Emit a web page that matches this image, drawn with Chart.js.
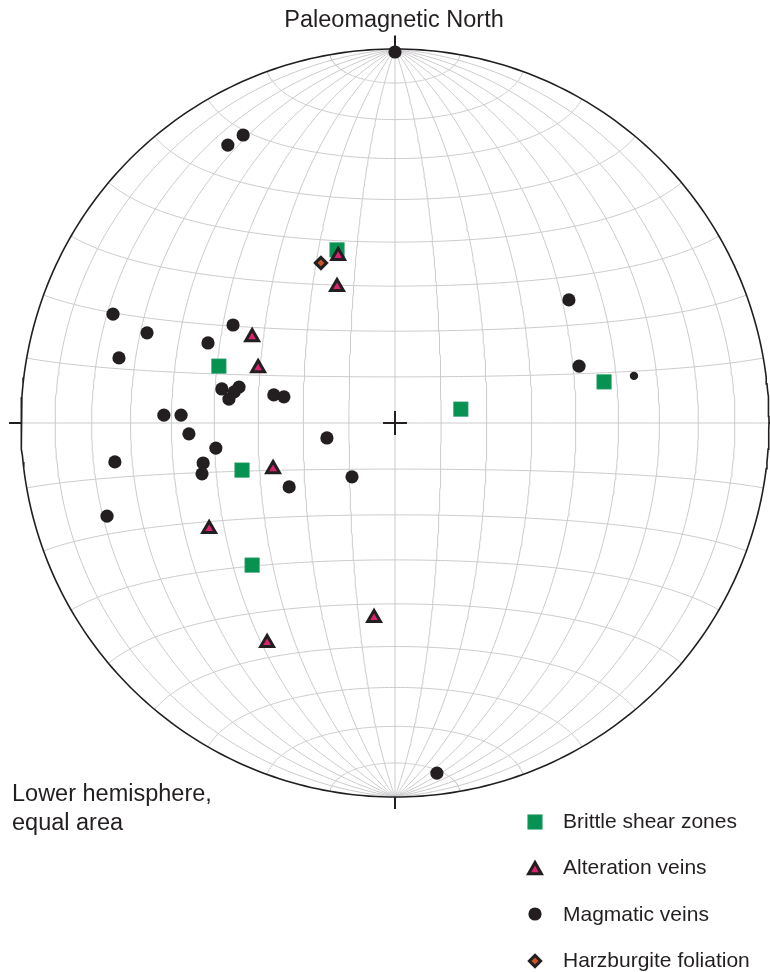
<!DOCTYPE html>
<html>
<head>
<meta charset="utf-8">
<script src="https://cdn.jsdelivr.net/npm/chart.js@4.4.1/dist/chart.umd.min.js"></script>
<style>
  html, body { margin: 0; padding: 0; background: #fff; }
  canvas { display: block; }
</style>
</head>
<body>
<canvas id="net" width="770" height="972"></canvas>
<script>
// poles plotted on the net, as projected [x, y] inside the unit circle
const brittleShear = [
  [-0.155, 0.463], [-0.471, 0.152], [-0.409, -0.126],
  [-0.382, -0.380], [0.176, 0.037], [0.559, 0.110]
]
const alterationVeins = [
  [-0.152, 0.447], [-0.155, 0.364], [-0.382, 0.230], [-0.366, 0.147],
  [-0.326, -0.123], [-0.497, -0.283], [-0.056, -0.521], [-0.342, -0.588]
]
const magmaticVeins = [
  [0.000, 0.992], [-0.447, 0.743], [-0.406, 0.770], [-0.754, 0.291],
  [-0.663, 0.241], [-0.738, 0.174], [-0.433, 0.262], [-0.500, 0.214],
  [-0.463, 0.091], [-0.417, 0.096], [-0.430, 0.083], [-0.444, 0.064],
  [-0.324, 0.075], [-0.297, 0.070], [-0.618, 0.021], [-0.572, 0.021],
  [-0.551, -0.029], [-0.479, -0.067], [-0.513, -0.107], [-0.516, -0.136],
  [-0.749, -0.104], [-0.283, -0.171], [-0.770, -0.249], [-0.182, -0.040],
  [-0.115, -0.144], [0.465, 0.329], [0.492, 0.152], [0.639, 0.126],
  [0.112, -0.936]
]
const smallMagmatic = [27]   // the one vein drawn with a smaller dot
const harzburgite = [
  [-0.198, 0.428]
]
const seriesNames = ['Brittle shear zones', 'Alteration veins', 'Magmatic veins', 'Harzburgite foliation']

const INK = '#231f20'
const GRID = '#cbcbce'
const FONT = '"Liberation Sans", Arial, Helvetica, sans-serif'

function pts(list) {
  return list.map(function (p) { return { x: p[0], y: p[1] } })
}

// equal-area (Schmidt) projection, scaled so the primitive is radius 1
function lambert(lon, lat) {
  let l = lon * Math.PI / 180, p = lat * Math.PI / 180
  let k = 1 / Math.sqrt(1 + Math.cos(p) * Math.cos(l))
  return { x: k * Math.cos(p) * Math.sin(l), y: k * Math.sin(p) }
}

function lineSet(data, color, width, order) {
  return {
    data: data, showLine: true, borderColor: color, borderWidth: width,
    pointRadius: 0, pointHoverRadius: 0, pointHitRadius: 0,
    fill: false, tension: 0, clip: false, order: order
  }
}

let datasets = []

// great circles through the poles and small circles about the N-S axis, 10 deg apart
for (let lon = -80; lon <= 80; lon += 10) {
  let line = []
  for (let lat = -90; lat <= 90; lat += 1) line.push(lambert(lon, lat))
  datasets.push(lineSet(line, GRID, 1, 20))
}
for (let lat = -80; lat <= 80; lat += 10) {
  let line = []
  for (let lon = -90; lon <= 90; lon += 1) line.push(lambert(lon, lat))
  datasets.push(lineSet(line, GRID, 1, 20))
}

// primitive circle
let rim = []
for (let a = 0; a <= 360; a += 1) {
  rim.push({ x: Math.cos(a * Math.PI / 180), y: Math.sin(a * Math.PI / 180) })
}
datasets.push(lineSet(rim, INK, 1.6, 15))

// tick marks at N, E, S, W and the centre cross
const tick = 0.032
const marks = [
  [[0, 1], [0, 1 + 0.036]],
  [[-1, 0], [-1 - tick, 0]],
  [[1, 0], [1 + tick, 0]],
  [[0, -1], [0, -1 - tick]],
  [[-tick, 0], [tick, 0]],
  [[0, -tick], [0, tick]]
]
marks.forEach(function (m) {
  datasets.push(lineSet(pts(m), INK, 2, 14))
})

const styles = [
  { pointStyle: 'rect', radius: 10.3, backgroundColor: '#079252', borderColor: '#3aa673', borderWidth: 0.6 },
  { pointStyle: 'triangle', radius: 7.4, backgroundColor: '#d8246f', borderColor: INK, borderWidth: 3 },
  { pointStyle: 'circle', radius: 6.6, backgroundColor: INK, borderColor: INK, borderWidth: 0 },
  { pointStyle: 'rectRot', radius: 5.6, backgroundColor: '#c7552b', borderColor: INK, borderWidth: 3 }
]

function markerSet(list, st, order) {
  return {
    data: pts(list), showLine: false, pointStyle: st.pointStyle,
    pointRadius: st.radius, pointHoverRadius: st.radius,
    pointBackgroundColor: st.backgroundColor, pointBorderColor: st.borderColor,
    pointBorderWidth: st.borderWidth, pointHoverBorderWidth: st.borderWidth,
    clip: false, order: order
  }
}

let magmatic = markerSet(magmaticVeins, styles[2], 5)
magmatic.pointRadius = function (ctx) {
  return smallMagmatic.indexOf(ctx.dataIndex) >= 0 ? 4.2 : styles[2].radius
}
datasets.push(magmatic)
datasets.push(markerSet(brittleShear, styles[0], 4))
datasets.push(markerSet(alterationVeins, styles[1], 3))
datasets.push(markerSet(harzburgite, styles[3], 2))

// drawn by hand so the marker shapes match the plotted ones
function drawMarker(ctx, st, x, y) {
  let r = st.radius
  ctx.save()
  ctx.fillStyle = st.backgroundColor
  ctx.strokeStyle = st.borderColor
  ctx.lineWidth = st.borderWidth
  ctx.lineJoin = 'miter'
  ctx.beginPath()
  if (st.pointStyle === 'rect') {
    let s = Math.SQRT1_2 * r
    ctx.rect(x - s, y - s, 2 * s, 2 * s)
  } else if (st.pointStyle === 'triangle') {
    for (let i = 0; i < 3; i++) {
      let a = i * 2 * Math.PI / 3
      let px = x + Math.sin(a) * r, py = y - Math.cos(a) * r
      if (i === 0) ctx.moveTo(px, py)
      else ctx.lineTo(px, py)
    }
    ctx.closePath()
  } else if (st.pointStyle === 'circle') {
    ctx.arc(x, y, r, 0, Math.PI * 2)
  } else {
    ctx.moveTo(x, y - r)
    ctx.lineTo(x + r, y)
    ctx.lineTo(x, y + r)
    ctx.lineTo(x - r, y)
    ctx.closePath()
  }
  ctx.fill()
  if (st.borderWidth > 0) ctx.stroke()
  ctx.restore()
}

const labelsPlugin = {
  id: 'netLabels',
  afterDraw: function (chart) {
    let ctx = chart.ctx
    ctx.save()
    ctx.fillStyle = INK
    ctx.textBaseline = 'alphabetic'

    ctx.font = '23.5px ' + FONT
    ctx.textAlign = 'center'
    ctx.fillText('Paleomagnetic North', 394, 27)

    ctx.textAlign = 'left'
    ctx.font = '23.5px ' + FONT
    ctx.fillText('Lower hemisphere,', 12, 801)
    ctx.fillText('equal area', 12, 830)

    const rows = [828, 874, 921, 967]
    const markY = [822, 870, 914, 961]
    ctx.font = '21px ' + FONT
    seriesNames.forEach(function (name, i) {
      drawMarker(ctx, styles[i], 535, markY[i])
      ctx.fillStyle = INK
      ctx.fillText(name, 563, rows[i])
    })
    ctx.restore()
  }
}

new Chart(document.getElementById('net'), {
  type: 'scatter',
  data: { datasets: datasets },
  options: {
    responsive: false,
    animation: false,
    events: [],
    layout: { autoPadding: false, padding: { left: 21, right: 1, top: 49, bottom: 175 } },
    scales: {
      x: { type: 'linear', min: -1, max: 1, display: false },
      y: { type: 'linear', min: -1, max: 1, display: false }
    },
    plugins: {
      legend: { display: false },
      tooltip: { enabled: false },
      title: { display: false }
    }
  },
  plugins: [labelsPlugin]
})
</script>
</body>
</html>
